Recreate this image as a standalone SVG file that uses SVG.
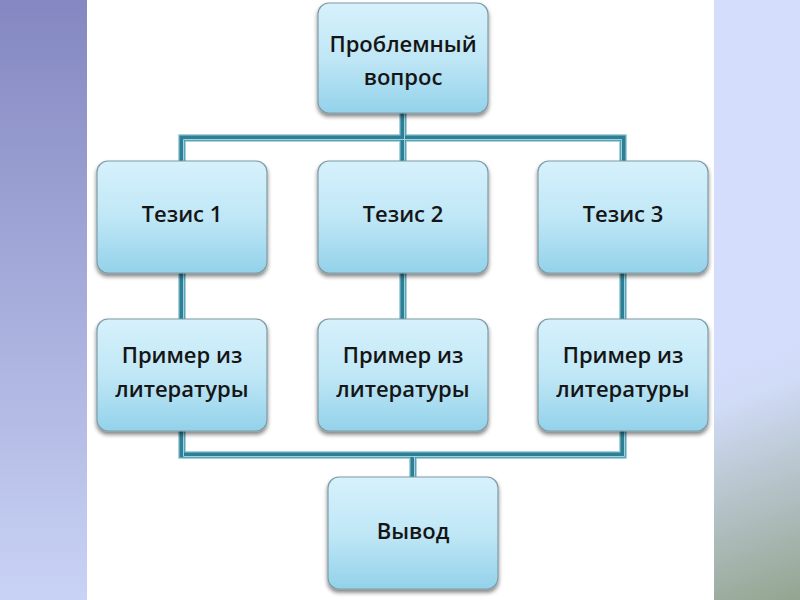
<svg xmlns="http://www.w3.org/2000/svg" width="800" height="600" viewBox="0 0 800 600">
<defs>
<linearGradient id="lg" x1="0" y1="0" x2="0" y2="1">
<stop offset="0" stop-color="#8487c1"/>
<stop offset="1" stop-color="#c9d3f5"/>
</linearGradient>
<linearGradient id="rg" gradientUnits="userSpaceOnUse" x1="714" y1="370" x2="800" y2="600">
<stop offset="0" stop-color="#d4defc"/>
<stop offset="0.15" stop-color="#d0dbf6"/>
<stop offset="1" stop-color="#93a590"/>
</linearGradient>
<linearGradient id="ng" x1="0" y1="0" x2="0" y2="1">
<stop offset="0" stop-color="#d6f1fc"/>
<stop offset="0.5" stop-color="#c0e7f6"/>
<stop offset="1" stop-color="#93d2ea"/>
</linearGradient>
<filter id="sh" x="-10%" y="-10%" width="120%" height="125%">
<feGaussianBlur in="SourceAlpha" stdDeviation="2"/>
<feOffset dx="0" dy="3" result="b"/>
<feComponentTransfer><feFuncA type="linear" slope="0.5"/></feComponentTransfer>
<feMerge><feMergeNode/><feMergeNode in="SourceGraphic"/></feMerge>
</filter>
<style>
.box{fill:url(#ng);stroke:#7f9ba6;stroke-width:1.2;filter:url(#sh)}
.t{font-family:"Open Sans","Noto Sans","DejaVu Sans",sans-serif;font-size:22px;font-weight:600;fill:#151515;text-anchor:middle}
.c1{fill:none;stroke:#8cc4d2;stroke-width:7.5;stroke-linejoin:miter}
.c2{fill:none;stroke:#2e7f94;stroke-width:5;stroke-linejoin:miter}
.c3{fill:none;stroke:#9fd2df;stroke-width:1;stroke-linejoin:miter}
</style>
</defs>
<rect x="0" y="0" width="800" height="600" fill="#ffffff"/>
<rect x="0" y="0" width="87" height="600" fill="url(#lg)"/>
<rect x="714" y="0" width="86" height="600" fill="url(#rg)"/>

<g id="connectors">
<path class="c1" d="M403,113 V161 M182,161 V138 H623 V161 M182,273 V319 M403,273 V319 M623,273 V319 M182,431 V455 H623 V431 M413,455 V477"/>
<path class="c2" d="M403,113 V161 M182,161 V138 H623 V161 M182,273 V319 M403,273 V319 M623,273 V319 M182,431 V455 H623 V431 M413,455 V477"/>
<path class="c3" d="M404.5,113 V161 M183.5,161 V139.5 H621.5 V161 M183.5,273 V319 M404.5,273 V319 M624.5,273 V319 M183.5,431 V456.5 H624.5 V431 M414.5,456.5 V477"/>
</g>

<g id="n-problem">
<rect class="box" x="318" y="3" width="170" height="110" rx="11"/>
<text class="t" x="403" y="52">Проблемный</text>
<text class="t" x="403" y="85">вопрос</text>
</g>
<g id="n-t1">
<rect class="box" x="97" y="161" width="170" height="112" rx="11"/>
<text class="t" x="182" y="222">Тезис 1</text>
</g>
<g id="n-t2">
<rect class="box" x="318" y="161" width="170" height="112" rx="11"/>
<text class="t" x="403" y="222">Тезис 2</text>
</g>
<g id="n-t3">
<rect class="box" x="538" y="161" width="170" height="112" rx="11"/>
<text class="t" x="623" y="222">Тезис 3</text>
</g>
<g id="n-p1">
<rect class="box" x="97" y="319" width="170" height="112" rx="11"/>
<text class="t" x="182" y="363">Пример из</text>
<text class="t" x="182" y="397">литературы</text>
</g>
<g id="n-p2">
<rect class="box" x="318" y="319" width="170" height="112" rx="11"/>
<text class="t" x="403" y="363">Пример из</text>
<text class="t" x="403" y="397">литературы</text>
</g>
<g id="n-p3">
<rect class="box" x="538" y="319" width="170" height="112" rx="11"/>
<text class="t" x="623" y="363">Пример из</text>
<text class="t" x="623" y="397">литературы</text>
</g>
<g id="n-vyvod">
<rect class="box" x="328" y="477" width="170" height="112" rx="11"/>
<text class="t" x="413" y="539">Вывод</text>
</g>
</svg>
